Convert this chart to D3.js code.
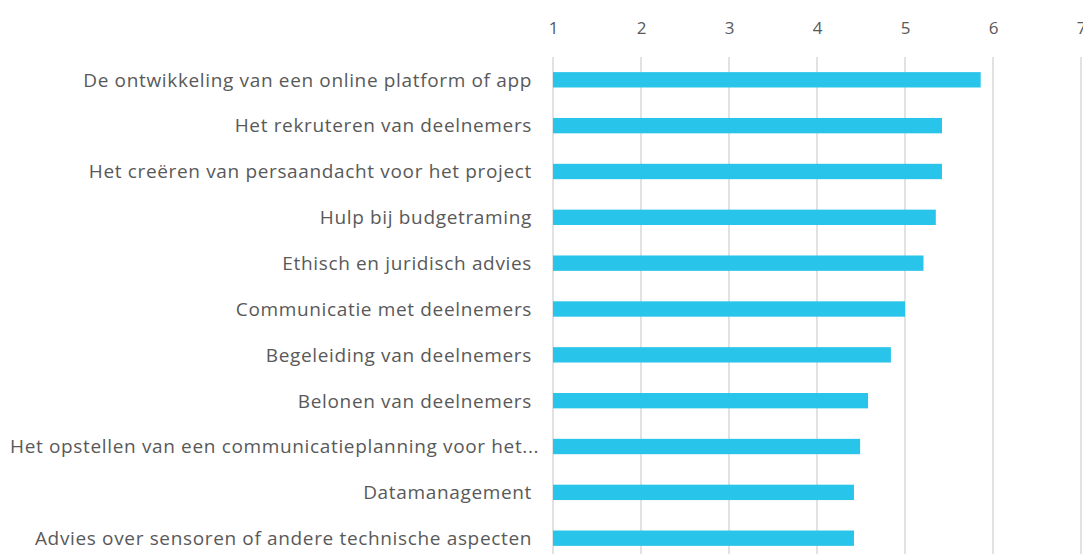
<!DOCTYPE html>
<html><head><meta charset="utf-8">
<script src="https://cdn.jsdelivr.net/npm/d3@7"></script>
<style>body{margin:0;background:#fff;} svg{display:block;}</style>
</head><body>
<svg id="chart" width="1083" height="554"></svg>
<script>
const categories = [
  "De ontwikkeling van een online platform of app",
  "Het rekruteren van deelnemers",
  "Het creëren van persaandacht voor het project",
  "Hulp bij budgetraming",
  "Ethisch en juridisch advies",
  "Communicatie met deelnemers",
  "Begeleiding van deelnemers",
  "Belonen van deelnemers",
  "Het opstellen van een communicatieplanning voor het...",
  "Datamanagement",
  "Advies over sensoren of andere technische aspecten"
];
const values = [5.86, 5.42, 5.42, 5.35, 5.21, 5.0, 4.84, 4.58, 4.49, 4.42, 4.42];
const tickValues = [1, 2, 3, 4, 5, 6, 7];

const svg = d3.select("#chart");
const x = d3.scaleLinear().domain([1, 7]).range([553, 1081]);
const y = d3.scaleBand().domain(categories).range([57, 561]).paddingInner(0.665).paddingOuter(0.33);

// gridlines
svg.append("g").selectAll("line").data(tickValues).join("line")
  .attr("x1", d => x(d)).attr("x2", d => x(d))
  .attr("y1", 57).attr("y2", 554)
  .attr("stroke", "#d9d9d9").attr("stroke-width", 1.5);

// axis top
const axis = svg.append("g").attr("transform", "translate(0,34)")
  .call(d3.axisTop(x).tickValues(tickValues).tickSize(0).tickPadding(0).tickFormat(d3.format("d")));
axis.select(".domain").remove();
axis.selectAll("text").attr("font-family", "'Open Sans', sans-serif").attr("font-size", 17).attr("fill", "#595959");

// bars
svg.append("g").selectAll("rect").data(values).join("rect")
  .attr("x", x(1)).attr("y", (d, i) => y(categories[i]))
  .attr("width", d => x(d) - x(1)).attr("height", y.bandwidth())
  .attr("fill", "#29C4EA");

// labels
svg.append("g").selectAll("text").data(categories).join("text")
  .attr("y", d => y(d) + y.bandwidth() / 2)
  .attr("dy", "0.36em")
  .attr("text-anchor", "end")
  .attr("font-family", "'Open Sans', sans-serif").attr("font-size", 19)
  .attr("letter-spacing", "0.65px").attr("fill", "#595959")
  .text(d => d)
  .attr("x", function() {
    const w = this.getComputedTextLength();
    return Math.max(532, 10 + w);
  });
</script>
</body></html>
